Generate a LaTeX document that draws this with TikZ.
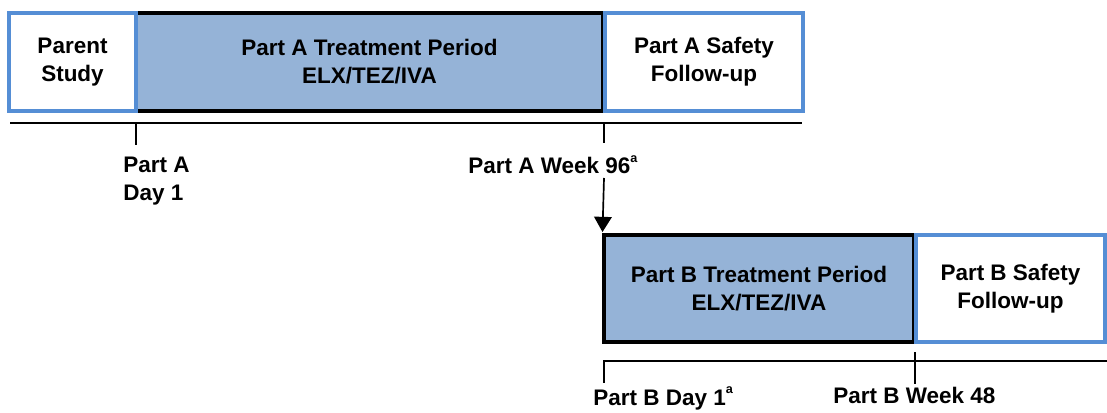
\documentclass[tikz,border=0pt]{standalone}
\usepackage{fontspec}
\setmainfont{Liberation Sans}
\usetikzlibrary{arrows.meta}
\definecolor{treatblue}{RGB}{149,179,215}
\definecolor{edgeblue}{RGB}{85,142,213}
\newcommand{\supa}{\raisebox{0.5em}{\fontsize{9}{9}\selectfont a}}

\begin{document}
\begin{tikzpicture}[draw=black!100]
	\fontsize{16}{20}\selectfont\bfseries
	\def \rowAht{8.75cm}
	\def \axisA{7.225cm}
	\def \rowBht{3.0875cm}
	\def \axisB{1.275cm}
	\def \boxAht{2.45cm}
	\def \boxBht{2.675cm}

	\useasboundingbox (0cm,0cm) rectangle (27.675cm,10.3cm);

	\tikzstyle{t-box}=[rectangle,draw=black,line width=2.2pt,fill=treatblue,align=center,inner sep=0pt]
	\tikzstyle{s-box}=[rectangle,draw=edgeblue,line width=2.2pt,fill=white,align=center,inner sep=0pt]
	\tikzstyle{annot}=[align=left,inner sep=0pt,anchor=north west]
	\tikzstyle{axis}=[line width=2pt]
	\tikzstyle{tick}=[line width=0.8pt]

	% part A
	\node[t-box,minimum width=11.675cm,minimum height=\boxAht] (atreat) at (9.2375cm,\rowAht) {Part A Treatment Period\\ELX/TEZ/IVA};
	\node[s-box,minimum width=3.175cm,minimum height=\boxAht] (pstudy) at (1.8125cm,\rowAht) {Parent\\Study};
	\node[s-box,minimum width=4.95cm,minimum height=\boxAht] (asafety) at (17.6cm,\rowAht) {Part A Safety\\Follow-up};

	\coordinate (axA0) at (0.25cm,\axisA);
	\coordinate (axA1) at (20.05cm,\axisA);
	\coordinate (tA1) at (3.4cm,\axisA);
	\coordinate (tA2) at (15.1cm,\axisA);
	\draw[axis] (axA0) -- (axA1);
	\draw[tick] (tA1) -- ++(0,-0.55cm);
	\draw[tick] (tA2) -- ++(0,-0.5cm);

	\node[annot] (aday1) at (3.075cm,6.375cm) {Part A\\Day 1};
	\node[annot] (aweek96) at (11.7cm,6.425cm) {Part A Week 96\supa};

	% part B
	\node[t-box,minimum width=7.75cm,minimum height=\boxBht] (btreat) at (18.975cm,\rowBht) {Part B Treatment Period\\ELX/TEZ/IVA};
	\node[s-box,minimum width=4.725cm,minimum height=\boxBht] (bsafety) at (25.2625cm,\rowBht) {Part B Safety\\Follow-up};

	\coordinate (arrowtop) at (15.1cm,5.85cm);
	\draw[line width=1.2pt,shorten >=1pt,-{Triangle[width=0.44cm,length=0.38cm]}] (arrowtop) -- (btreat.north west);

	\coordinate (axB0) at (15.075cm,\axisB);
	\coordinate (axB1) at (27.675cm,\axisB);
	\coordinate (tB1) at (15.1cm,\axisB);
	\coordinate (tB2) at (22.875cm,\axisB);
	\draw[axis,line width=1.6pt] (axB0) -- (axB1);
	\draw[tick] (tB1) -- ++(0,-0.55cm);
	\draw[tick] (tB2) ++(0,0.225cm) -- ++(0,-0.8cm);

	\node[annot] (bday1) at (14.825cm,0.63cm) {Part B Day 1\supa};
	\node[annot] (bweek48) at (20.825cm,0.625cm) {Part B Week 48};
\end{tikzpicture}
\end{document}
